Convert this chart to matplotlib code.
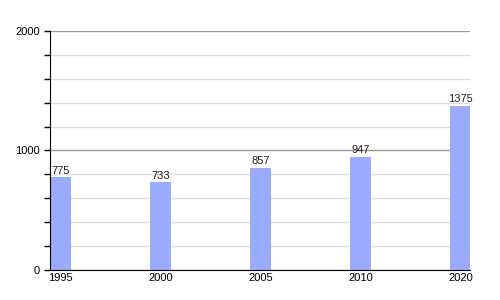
import numpy as np
import matplotlib
matplotlib.use("Agg")
import matplotlib.pyplot as plt
from matplotlib.ticker import MultipleLocator

plt.rcParams['font.family'] = ['Liberation Sans', 'DejaVu Sans']

years  = ["1995", "2000", "2005", "2010", "2020"]
values = [775, 733, 857, 947, 1375]

fig = plt.figure(figsize=(5, 3), dpi=100)
ax = fig.add_axes([0.1, 0.1, 0.84, 0.797])

x = np.arange(len(years))
w = 0.21
ax.bar(x, values, width=w, align='edge', color="#99aaff", zorder=3)
for xi, v in zip(x, values):
    ax.text(xi + w / 2, v + 15, str(v), ha='center', va='bottom', fontsize=8, color="#222222", zorder=4)

ax.set_xlim(0, 4.2)
ax.set_ylim(0, 2000)
ax.set_xticks(x + w / 2)
ax.set_xticklabels(years, fontsize=8)
ax.yaxis.set_major_locator(MultipleLocator(1000))
ax.yaxis.set_minor_locator(MultipleLocator(200))
ax.tick_params(axis='y', which='both', direction='out', length=4, labelsize=8, width=1)
ax.tick_params(axis='x', length=0, pad=2)
ax.grid(axis='y', which='major', color="#999999", linewidth=1, zorder=1)
ax.grid(axis='y', which='minor', color="#dddddd", linewidth=1, zorder=1)
for s in ["top", "right"]:
    ax.spines[s].set_visible(False)
ax.spines["left"].set_zorder(5)
ax.spines["bottom"].set_zorder(5)

plt.savefig('out.png')
plt.close(fig)
